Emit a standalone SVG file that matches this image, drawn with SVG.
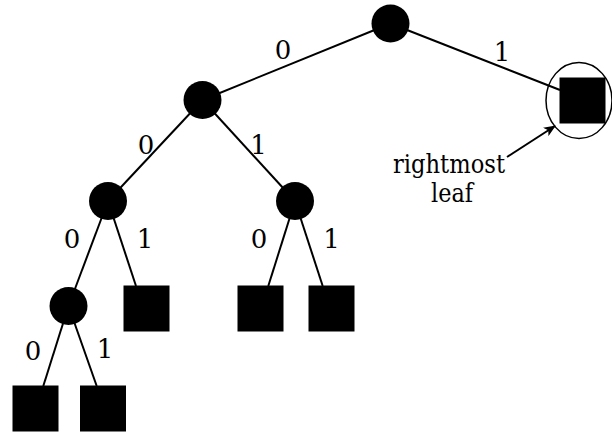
<svg xmlns="http://www.w3.org/2000/svg" width="612" height="437" viewBox="0 0 612 437">
  <style>
    .edge { stroke: #000; stroke-width: 2; fill: none; }
    .inner { fill: #000; }
    .leaf { fill: #000; }
    .lbl { font-family: "DejaVu Serif", serif; font-size: 26px; fill: #000; text-anchor: middle; }
  </style>
  <defs>
    <marker id="arrowhead" viewBox="0 0 12 10" refX="11" refY="5" markerWidth="12" markerHeight="10" markerUnits="userSpaceOnUse" orient="auto">
      <path d="M0,0 L12,5 L0,10 L3,5 Z" fill="#000"/>
    </marker>
  </defs>

  <!-- tree edges -->
  <g id="edges">
    <line class="edge" x1="390.5" y1="23.5" x2="202.5" y2="100"/>
    <line class="edge" x1="390.5" y1="23.5" x2="560" y2="90"/>
    <line class="edge" x1="202.5" y1="100" x2="108" y2="201"/>
    <line class="edge" x1="202.5" y1="100" x2="295" y2="201"/>
    <line class="edge" x1="108" y1="201" x2="68.5" y2="306"/>
    <line class="edge" x1="108" y1="201" x2="136" y2="286"/>
    <line class="edge" x1="295" y1="201" x2="268.3" y2="286"/>
    <line class="edge" x1="295" y1="201" x2="322.7" y2="286"/>
    <line class="edge" x1="68.5" y1="306" x2="43.3" y2="386"/>
    <line class="edge" x1="68.5" y1="306" x2="96.7" y2="386"/>
  </g>

  <!-- edge labels -->
  <g id="edge-labels">
    <text class="lbl" x="283" y="59">0</text>
    <text class="lbl" x="502" y="61">1</text>
    <text class="lbl" x="146" y="154">0</text>
    <text class="lbl" x="258.5" y="154">1</text>
    <text class="lbl" x="72" y="248">0</text>
    <text class="lbl" x="145" y="248">1</text>
    <text class="lbl" x="259" y="248">0</text>
    <text class="lbl" x="331.5" y="248">1</text>
    <text class="lbl" x="33" y="360">0</text>
    <text class="lbl" x="105" y="358">1</text>
  </g>

  <!-- internal nodes -->
  <g id="node-root"><circle class="inner" cx="390.5" cy="23.5" r="19"/></g>
  <g id="node-0"><circle class="inner" cx="202.5" cy="100" r="19"/></g>
  <g id="node-00"><circle class="inner" cx="108" cy="201" r="19"/></g>
  <g id="node-01"><circle class="inner" cx="295" cy="201" r="19"/></g>
  <g id="node-000"><circle class="inner" cx="68.5" cy="306" r="19"/></g>

  <!-- leaves -->
  <g id="leaf-1">
    <rect class="leaf" x="559.5" y="77.5" width="46" height="46"/>
    <ellipse cx="579" cy="100.5" rx="33" ry="38" fill="none" stroke="#000" stroke-width="1.5"/>
  </g>
  <g id="leaf-001"><rect class="leaf" x="123.5" y="285.5" width="46" height="46"/></g>
  <g id="leaf-010"><rect class="leaf" x="237.5" y="285.5" width="46" height="46"/></g>
  <g id="leaf-011"><rect class="leaf" x="308.5" y="285.5" width="46" height="46"/></g>
  <g id="leaf-0000"><rect class="leaf" x="12.5" y="385.5" width="46" height="46"/></g>
  <g id="leaf-0001"><rect class="leaf" x="80" y="385.5" width="46" height="46"/></g>

  <!-- annotation -->
  <g id="annotation">
    <line class="edge" x1="507" y1="157" x2="555" y2="126" marker-end="url(#arrowhead)"/>
    <text class="lbl" x="449" y="173" textLength="112" lengthAdjust="spacingAndGlyphs">rightmost</text>
    <text class="lbl" x="452" y="202" textLength="42" lengthAdjust="spacingAndGlyphs">leaf</text>
  </g>
</svg>
